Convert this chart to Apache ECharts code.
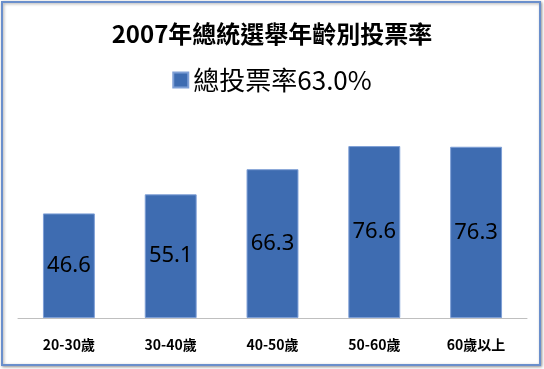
<!DOCTYPE html>
<html><head><meta charset="utf-8">
<script src="https://cdn.jsdelivr.net/npm/echarts@6/dist/echarts.min.js"></script>
<style>html,body{margin:0;padding:0;background:#fff;}#c{width:544px;height:369px;}</style>
</head><body><div id="c"></div>
<script>
const titleText = '2007年總統選舉年齡別投票率';
const seriesName = '總投票率63.0%';
const categories = ['20-30歲', '30-40歲', '40-50歲', '50-60歲', '60歲以上'];
const values = [46.6, 55.1, 66.3, 76.6, 76.3];

const chart = echarts.init(document.getElementById('c'), null, {renderer: 'canvas'});
chart.setOption({
  animation: false,
  backgroundColor: '#fff',
  graphic: [{
    type: 'rect', z: -1,
    shape: {x: 2, y: 2, width: 538, height: 363},
    style: {fill: '#fff', stroke: '#6a8fcc', lineWidth: 2, shadowBlur: 3, shadowColor: 'rgba(0,0,0,0.35)', shadowOffsetX: 1, shadowOffsetY: 1}
  }],
  title: {
    text: titleText, left: 'center', top: 17,
    textStyle: {fontFamily: 'Noto Sans CJK TC', fontWeight: 'bold', fontSize: 24, color: '#000'}
  },
  legend: {
    data: [seriesName], top: 62, left: 'center',
    icon: 'rect', itemWidth: 15, itemHeight: 15, itemGap: 8,
    textStyle: {fontFamily: 'Noto Sans CJK TC', fontSize: 26, color: '#000'}
  },
  grid: {left: 18, right: 17, top: 116, bottom: 51, containLabel: false},
  xAxis: {
    type: 'category', data: categories,
    axisLine: {lineStyle: {color: '#bfbfbf', width: 1}},
    axisTick: {show: false},
    axisLabel: {margin: 20, fontFamily: 'Noto Sans CJK TC', fontWeight: 'bold', fontSize: 14, color: '#000'}
  },
  yAxis: {type: 'value', min: 0, max: 90, show: false, splitLine: {show: false}},
  series: [{
    name: seriesName, type: 'bar', data: values, barWidth: '51%',
    itemStyle: {color: '#3e6cb1', borderColor: '#7e9fd6', borderWidth: 1},
    label: {show: true, position: 'inside', fontFamily: 'Noto Sans', fontSize: 22, color: '#000'}
  }]
});
</script></body></html>
